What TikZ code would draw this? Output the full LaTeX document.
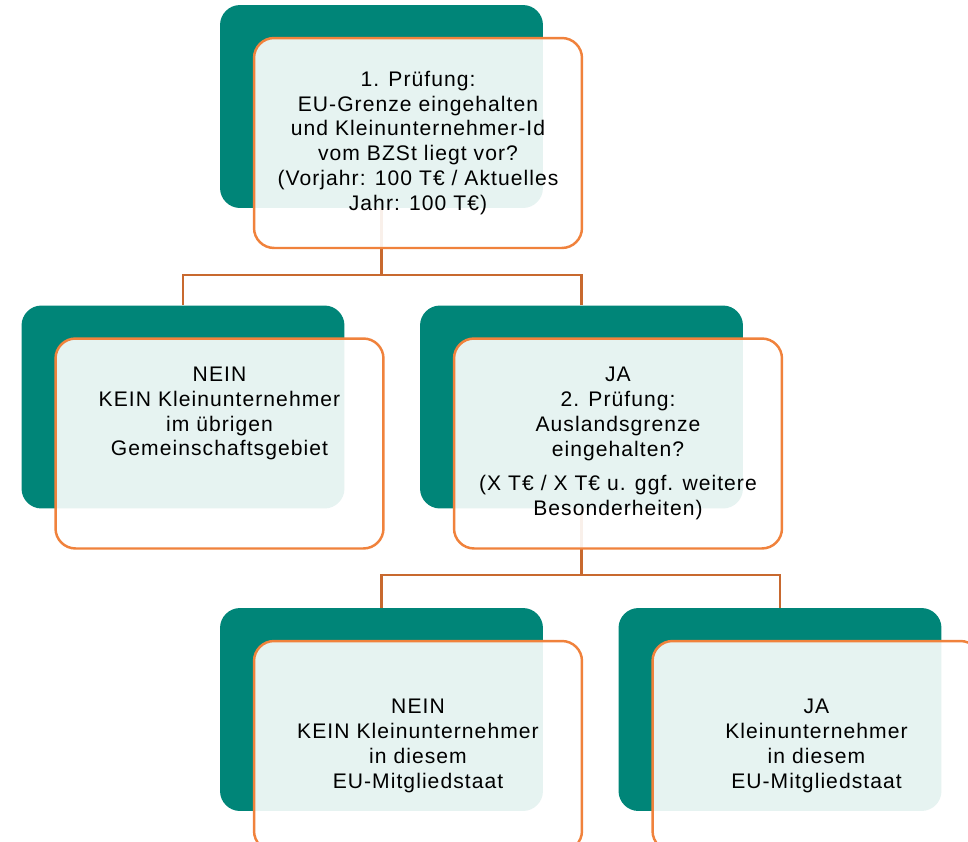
\documentclass[tikz,border=0pt]{standalone}
\usepackage{fontspec}
\setmainfont{Liberation Sans}[LetterSpace=5]
\usetikzlibrary{backgrounds}
\definecolor{gruen}{RGB}{0,133,120}
\definecolor{rand}{RGB}{240,130,60}
\definecolor{linie}{RGB}{200,105,47}

\tikzset{
  gbox/.style={fill=gruen, rounded corners=0.4cm, minimum width=6.46cm, minimum height=4.06cm, inner sep=0pt},
  lbox/.style={draw=rand, line width=1.4pt, fill=white, fill opacity=0.9, rounded corners=0.4cm, minimum width=6.56cm, minimum height=4.2cm, inner sep=0pt},
  txt/.style={align=center, inner sep=0pt, font=\fontsize{12}{14.2}\selectfont},
  conn/.style={draw=linie, line width=1.7pt}
}

\begin{document}
\begin{tikzpicture}[x=0.02cm,y=-0.02cm]
\useasboundingbox (0,0) rectangle (968,842);
\clip (0,0) rectangle (968,842);

% erste Pruefung
\node[gbox] (g1) at (381.5,106.5) {};
\node[lbox] (l1) at (418,143) {};
\node[txt] (t1) at (l1) {1. Prüfung:\\EU-Grenze eingehalten\\und Kleinunternehmer-Id\\vom BZSt liegt vor?\\(Vorjahr: 100 T€ / Aktuelles\\Jahr: 100 T€)};

% zweite Ebene
\node[gbox] (g2) at (183,407) {};
\node[lbox] (l2) at (219.5,443.5) {};
\node[txt] (t2) at ([yshift=0.6cm]l2.center) {NEIN\\KEIN Kleinunternehmer\\im übrigen\\Gemeinschaftsgebiet};

\node[gbox] (g3) at (581.5,407) {};
\node[lbox] (l3) at (618,443.5) {};
\node[txt] (t3) at (l3) {JA\\2. Prüfung:\\Auslandsgrenze\\eingehalten?\\[0.18cm](X T€ / X T€ u. ggf. weitere\\Besonderheiten)};

% dritte Ebene
\node[gbox] (g4) at (381.5,709.5) {};
\node[lbox] (l4) at (418,746) {};
\node[txt] (t4) at (l4) {NEIN\\KEIN Kleinunternehmer\\in diesem\\EU-Mitgliedstaat};

\node[gbox] (g5) at (780,709.5) {};
\node[lbox] (l5) at (816.5,746) {};
\node[txt] (t5) at (l5) {JA\\Kleinunternehmer\\in diesem\\EU-Mitgliedstaat};

\begin{scope}[on background layer]
\coordinate (k1) at (381.5,275);
\draw[conn] (g1.south) -- (k1) -| (g2.north);
\draw[conn] (k1) -| (g3.north);
\coordinate (k2) at (581.5,575);
\draw[conn] (g3.south) -- (k2) -| (g4.north);
\draw[conn] (k2) -| (g5.north);
\end{scope}
\end{tikzpicture}
\end{document}
